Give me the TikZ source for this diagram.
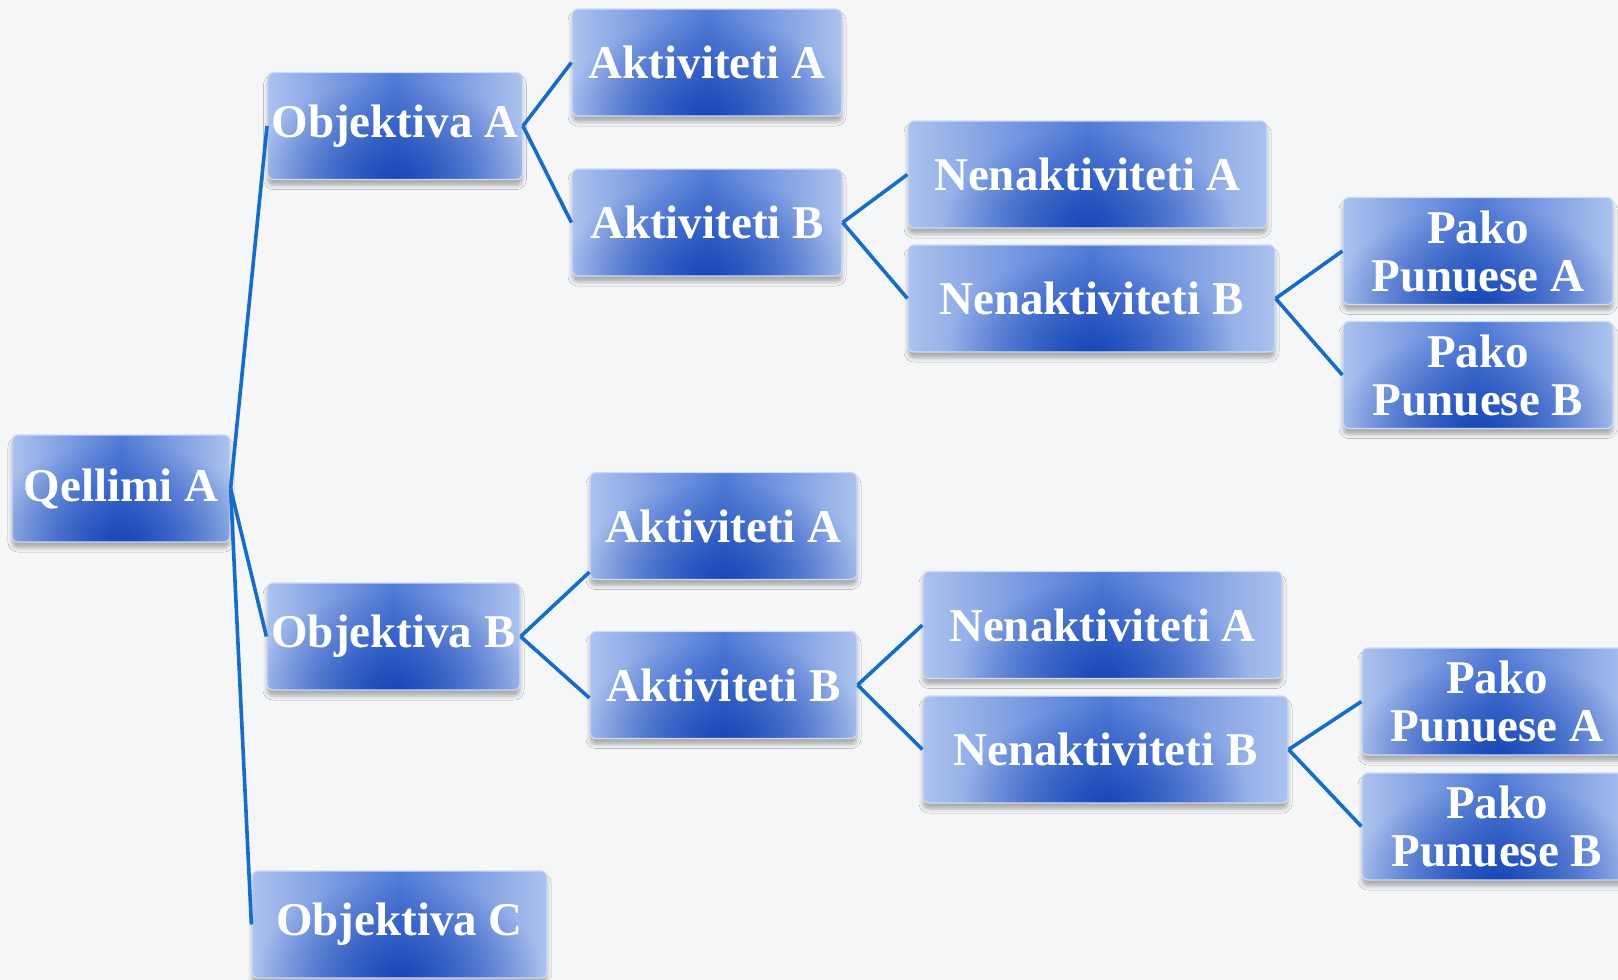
\documentclass[tikz,border=0pt]{standalone}
\usepackage{fontspec}
\setmainfont{Liberation Serif}
\usetikzlibrary{shadows.blur,fadings}
\definecolor{bgcol}{RGB}{245,246,247}
\definecolor{boxlight}{RGB}{172,194,238}
\definecolor{boxmid}{RGB}{80,122,214}
\definecolor{boxdark}{RGB}{24,72,184}
\definecolor{boxedge}{RGB}{205,218,246}
\definecolor{linkblue}{RGB}{22,108,200}
\tikzfading[name=glowfade, inner color=transparent!0, outer color=transparent!100]
\begin{document}
\begin{tikzpicture}[x=0.5pt,y=-0.5pt,
  box/.style={rounded corners=3pt, draw=boxedge, line width=0.6pt,
    minimum height=53.5pt, inner sep=2pt, align=center, text=white,
    font=\bfseries\fontsize{23.5}{24}\selectfont,
    blur shadow={shadow xshift=0pt, shadow yshift=-3pt, shadow blur radius=2pt, shadow opacity=30},
    path picture={
      \shade[left color=boxlight, right color=boxlight, middle color=boxmid]
        (path picture bounding box.south west) rectangle (path picture bounding box.north east);
      \fill[boxdark, path fading=glowfade] (path picture bounding box.south) ellipse [x radius=72pt, y radius=50pt];
    }},
  link/.style={draw=linkblue, line width=1.8pt}]
% Background
\fill[bgcol] (0,0) rectangle (1618,980);
\useasboundingbox (0,0) rectangle (1618,980);
% Goal and objectives
\node[box, minimum width=109pt] (qellimi) at (121,488.5) {Qellimi A};
\node[box, minimum width=127pt] (objA) at (395,126) {Objektiva A};
\node[box, minimum width=126.5pt] (objB) at (393.5,636.5) {Objektiva B};
\node[box, minimum width=147.5pt] (objC) at (399.5,924.5) {Objektiva C};
% Upper branch
\node[box, minimum width=135pt] (aktA1) at (707,62.5) {Aktiviteti A};
\node[box, minimum width=135pt] (aktB1) at (707,222.5) {Aktiviteti B};
\node[box, minimum width=179.5pt] (nenA1) at (1087.5,174.5) {Nenaktiviteti A};
\node[box, minimum width=183.5pt] (nenB1) at (1091.5,298.5) {Nenaktiviteti B};
\node[box, minimum width=135pt] (pakoA1) at (1478,251) {Pako\\Punuese A};
\node[box, minimum width=135pt] (pakoB1) at (1478,375) {Pako\\Punuese B};
% Lower branch
\node[box, minimum width=133.5pt] (aktA2) at (723.5,526) {Aktiviteti A};
\node[box, minimum width=133.5pt] (aktB2) at (723.5,685) {Aktiviteti B};
\node[box, minimum width=179.5pt] (nenA2) at (1102.5,625) {Nenaktiviteti A};
\node[box, minimum width=182.5pt] (nenB2) at (1105.5,749.5) {Nenaktiviteti B};
\node[box, minimum width=135pt] (pakoA2) at (1497,701.5) {Pako\\Punuese A};
\node[box, minimum width=135pt] (pakoB2) at (1497,826.5) {Pako\\Punuese B};
% Draw links
\draw[link] (qellimi.east) -- (objA.west);
\draw[link] (qellimi.east) -- (objB.west);
\draw[link] (qellimi.east) -- (objC.west);
\draw[link] (objA.east) -- (aktA1.west);
\draw[link] (objA.east) -- (aktB1.west);
\draw[link] (aktB1.east) -- (nenA1.west);
\draw[link] (aktB1.east) -- (nenB1.west);
\draw[link] (nenB1.east) -- (pakoA1.west);
\draw[link] (nenB1.east) -- (pakoB1.west);
\draw[link] (objB.east) -- ([yshift=4pt]aktA2.south west);
\draw[link] (objB.east) -- ([yshift=-6.5pt]aktB2.west);
\draw[link] (aktB2.east) -- (nenA2.west);
\draw[link] (aktB2.east) -- (nenB2.west);
\draw[link] (nenB2.east) -- (pakoA2.west);
\draw[link] (nenB2.east) -- (pakoB2.west);
\end{tikzpicture}
\end{document}
